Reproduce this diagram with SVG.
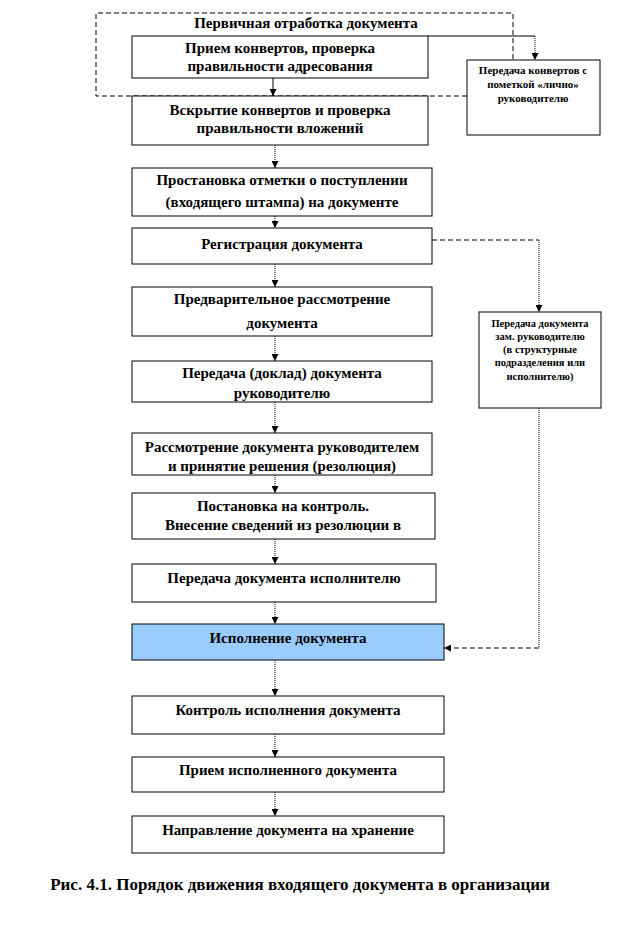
<svg xmlns="http://www.w3.org/2000/svg" width="624" height="936" viewBox="0 0 624 936">
<style>
.box{fill:#fff;stroke:#000;stroke-width:1}
.blue{fill:#99ccff;stroke:#000;stroke-width:1}
text{font-family:'Liberation Serif','Times New Roman',serif;font-weight:bold;text-anchor:middle;fill:#000}
.t{font-size:15px}
.s{font-size:11px}
.s2{font-size:10.5px}
.cap{font-size:17px}
.dot{fill:none;stroke:#000;stroke-width:1;stroke-dasharray:1,1}
.dash{fill:none;stroke:#000;stroke-width:1;stroke-dasharray:5,3}
.sol{fill:none;stroke:#000;stroke-width:1}
</style>
<defs>
<marker id="ah" viewBox="0 0 10 10" refX="10" refY="5" markerWidth="7" markerHeight="7" markerUnits="userSpaceOnUse" orient="auto">
<path d="M0,0 L10,5 L0,10 z" fill="#000"/>
</marker>
</defs>
<rect width="624" height="936" fill="#fff"/>

<g id="frame">
<path class="dash" d="M467,96 L96,96 L96,13 L513,13 L513,60"/>
<text class="t" x="306" y="28">Первичная отработка документа</text>
</g>

<g id="connectors">
<path class="sol" d="M428,36 L535,36"/>
<path class="dot" d="M535,36 L535,60" marker-end="url(#ah)"/>
<path class="sol" d="M273,78 L273,96" marker-end="url(#ah)"/>
<path class="dot" d="M275,145 L275,168" marker-end="url(#ah)"/>
<path class="dot" d="M275,216 L275,228" marker-end="url(#ah)"/>
<path class="dot" d="M275,264 L275,287" marker-end="url(#ah)"/>
<path class="dot" d="M275,336 L275,361" marker-end="url(#ah)"/>
<path class="dot" d="M275,402 L275,433" marker-end="url(#ah)"/>
<path class="dot" d="M275,475 L275,493" marker-end="url(#ah)"/>
<path class="dot" d="M275,539 L275,564" marker-end="url(#ah)"/>
<path class="dot" d="M275,602 L275,624" marker-end="url(#ah)"/>
<path class="dot" d="M275,660 L275,696" marker-end="url(#ah)"/>
<path class="dot" d="M275,734 L275,757" marker-end="url(#ah)"/>
<path class="dot" d="M275,792 L275,816" marker-end="url(#ah)"/>
<path class="dash" d="M432,240 L539,240"/>
<path class="dot" d="M539,240 L539,312" marker-end="url(#ah)"/>
<path class="dot" d="M539,408 L539,648"/>
<path class="dash" d="M539,648 L444,648" marker-end="url(#ah)"/>
</g>

<g id="n1">
<rect class="box" x="132" y="36" width="296" height="42" stroke="#555"/>
<text class="t" x="280" y="53">Прием конвертов, проверка</text>
<text class="t" x="280" y="71">правильности адресования</text>
</g>
<g id="r1">
<rect class="box" x="467" y="60" width="133" height="75"/>
<text class="s" x="533" y="74">Передача конвертов с</text>
<text class="s" x="533" y="88">пометкой «лично»</text>
<text class="s" x="533" y="102">руководителю</text>
</g>
<g id="n2">
<rect class="box" x="132" y="96" width="296" height="49"/>
<text class="t" x="280" y="115">Вскрытие конвертов и проверка</text>
<text class="t" x="280" y="133">правильности вложений</text>
</g>
<g id="n3">
<rect class="box" x="132" y="168" width="300" height="48"/>
<text class="t" x="282" y="185">Простановка отметки о поступлении</text>
<text class="t" x="282" y="207">(входящего  штампа) на документе</text>
</g>
<g id="n4">
<rect class="box" x="132" y="228" width="300" height="36"/>
<text class="t" x="282" y="249">Регистрация документа</text>
</g>
<g id="r2">
<rect class="box" x="479" y="312" width="122" height="96"/>
<text class="s2" x="540" y="327">Передача документа</text>
<text class="s2" x="540" y="340">зам. руководителю</text>
<text class="s2" x="540" y="353">(в структурные</text>
<text class="s2" x="540" y="366">подразделения  или</text>
<text class="s2" x="540" y="380">исполнителю)</text>
</g>
<g id="n5">
<rect class="box" x="132" y="287" width="300" height="49"/>
<text class="t" x="282" y="304">Предварительное рассмотрение</text>
<text class="t" x="282" y="328">документа</text>
</g>
<g id="n6">
<rect class="box" x="132" y="361" width="300" height="41"/>
<text class="t" x="282" y="378">Передача (доклад) документа</text>
<text class="t" x="282" y="398">руководителю</text>
</g>
<g id="n7">
<rect class="box" x="132" y="433" width="300" height="42"/>
<text class="t" x="282" y="452">Рассмотрение документа руководителем</text>
<text class="t" x="282" y="471">и принятие решения (резолюция)</text>
</g>
<g id="n8">
<rect class="box" x="132" y="493" width="303" height="46"/>
<text class="t" x="283" y="511">Постановка на контроль.</text>
<text class="t" x="283" y="530">Внесение сведений из резолюции в</text>
</g>
<g id="n9">
<rect class="box" x="132" y="564" width="304" height="38"/>
<text class="t" x="284" y="583">Передача документа исполнителю</text>
</g>
<g id="n10">
<rect class="blue" x="132" y="624" width="312" height="36"/>
<text class="t" x="288" y="643">Исполнение документа</text>
</g>
<g id="n11">
<rect class="box" x="132" y="696" width="312" height="38"/>
<text class="t" x="288" y="715">Контроль исполнения документа</text>
</g>
<g id="n12">
<rect class="box" x="132" y="757" width="312" height="35"/>
<text class="t" x="288" y="775">Прием исполненного документа</text>
</g>
<g id="n13">
<rect class="box" x="132" y="816" width="312" height="37"/>
<text class="t" x="288" y="835">Направление документа на хранение</text>
</g>

<text class="cap" x="300" y="890">Рис. 4.1. Порядок движения входящего документа в организации</text>
</svg>
